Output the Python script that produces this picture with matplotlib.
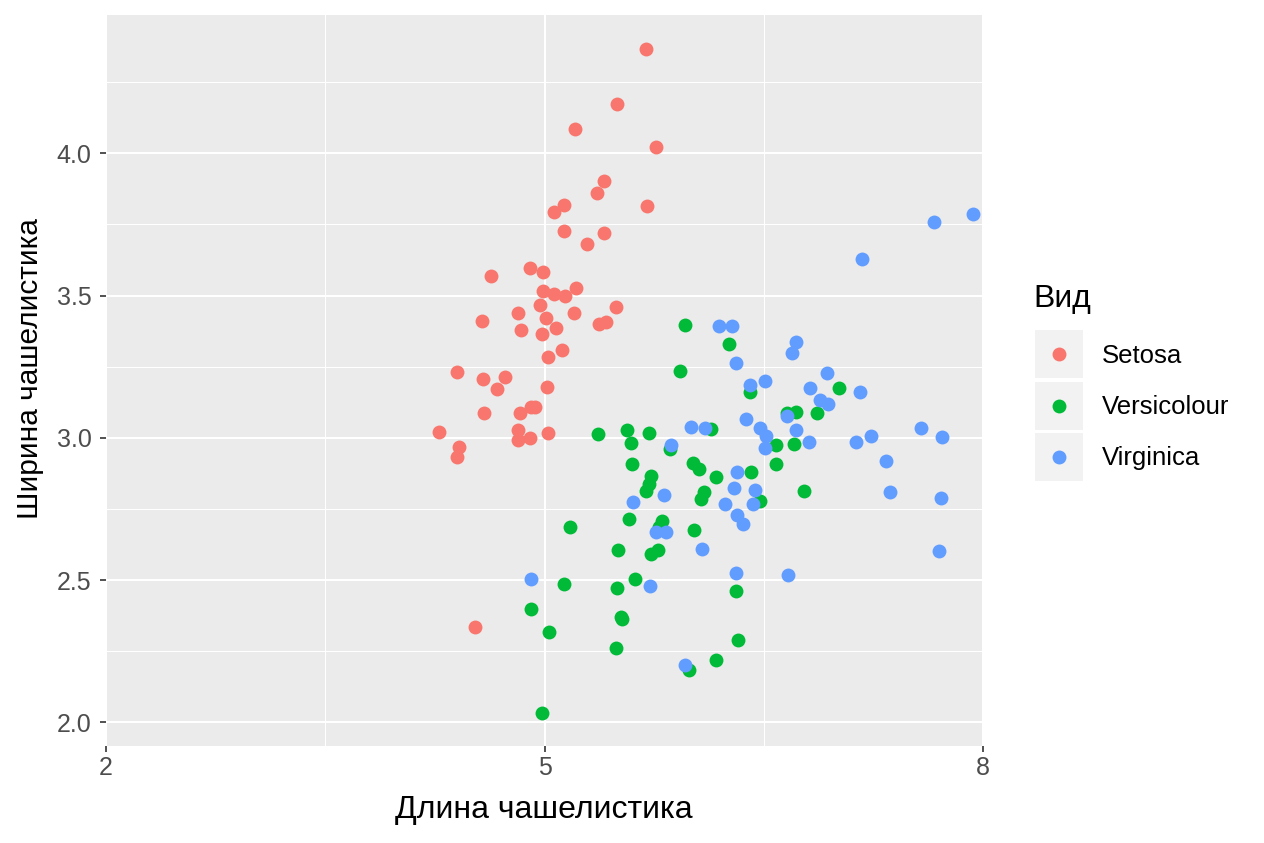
import matplotlib
matplotlib.use("Agg")
import matplotlib.pyplot as plt
from matplotlib.patches import Rectangle

plt.rcParams['font.family'] = ['Liberation Sans', 'DejaVu Sans']

# данные (длина и ширина чашелистика)
setosa_x = [5.696, 5.498, 5.765, 5.212, 5.410, 5.362, 5.703, 5.130, 5.068, 5.130,
            5.410, 5.294, 4.631, 4.904, 4.993, 4.993, 5.068, 5.137, 5.218, 5.491,
            4.966, 4.816, 4.570, 5.007, 5.205, 5.375, 5.423, 4.836, 4.980, 5.082,
            5.123, 5.027, 4.399, 4.577, 4.727, 4.672, 5.020, 4.932, 4.911, 4.584,
            4.829, 4.276, 4.816, 4.816, 4.904, 5.027, 4.413, 4.399, 4.522]
setosa_y = [4.367, 4.173, 4.022, 4.085, 3.903, 3.860, 3.815, 3.819, 3.794, 3.727,
            3.720, 3.681, 3.569, 3.597, 3.583, 3.516, 3.505, 3.498, 3.527, 3.460,
            3.467, 3.439, 3.411, 3.421, 3.439, 3.400, 3.407, 3.379, 3.365, 3.386,
            3.309, 3.284, 3.231, 3.207, 3.214, 3.172, 3.179, 3.108, 3.108, 3.087,
            3.087, 3.020, 3.027, 2.992, 2.999, 3.017, 2.968, 2.933, 2.335]

versicolour_x = [5.962, 6.263, 5.928, 6.406, 6.720, 6.659, 6.863, 7.014, 6.140, 6.584,
                 6.706, 6.017, 6.058, 6.174, 6.413, 6.584, 6.092, 6.072, 6.474, 6.775,
                 6.024, 5.369, 5.567, 5.594, 5.717, 5.860, 5.601, 5.730, 5.717, 5.696,
                 5.580, 5.177, 5.805, 5.785, 5.505, 5.778, 5.730, 5.130, 5.498, 5.621,
                 4.911, 5.526, 5.532, 5.034, 5.491, 6.311, 6.324, 6.174, 5.990, 4.986]
versicolour_y = [3.396, 3.330, 3.235, 3.161, 3.091, 3.087, 3.087, 3.175, 3.031, 2.975,
                 2.978, 2.911, 2.890, 2.862, 2.880, 2.908, 2.810, 2.785, 2.778, 2.813,
                 2.676, 3.013, 3.027, 2.982, 3.017, 2.961, 2.907, 2.866, 2.838, 2.813,
                 2.715, 2.687, 2.708, 2.687, 2.606, 2.606, 2.592, 2.486, 2.472, 2.504,
                 2.398, 2.370, 2.363, 2.317, 2.261, 2.462, 2.289, 2.219, 2.184, 2.033]

virginica_x = [7.935, 7.662, 7.171, 6.720, 6.693, 6.195, 6.283, 6.311, 6.509, 6.406,
               6.932, 6.816, 7.157, 6.884, 6.939, 6.379, 6.659, 6.003, 6.099, 6.474,
               6.515, 6.720, 6.509, 6.809, 7.130, 7.232, 7.573, 7.717, 7.335, 7.362,
               7.710, 7.696, 6.318, 6.297, 6.440, 6.235, 6.427, 6.318, 6.358, 5.867,
               5.608, 5.819, 5.765, 5.833, 4.911, 5.724, 6.078, 6.311, 6.666, 5.962]
virginica_y = [3.787, 3.758, 3.628, 3.337, 3.298, 3.393, 3.393, 3.263, 3.200, 3.186,
               3.228, 3.175, 3.161, 3.133, 3.119, 3.066, 3.077, 3.038, 3.035, 3.035,
               3.006, 3.027, 2.964, 2.985, 2.985, 3.006, 3.035, 3.003, 2.918, 2.809,
               2.788, 2.602, 2.880, 2.824, 2.817, 2.767, 2.767, 2.729, 2.697, 2.975,
               2.774, 2.799, 2.669, 2.669, 2.504, 2.479, 2.609, 2.525, 2.518, 2.201]

species = ['Setosa', 'Versicolour', 'Virginica']
colors = ['#F8766D', '#00BA38', '#619CFF']
xs = [setosa_x, versicolour_x, virginica_x]
ys = [setosa_y, versicolour_y, virginica_y]

x_ticks = [2, 5, 8]
y_ticks = [2.0, 2.5, 3.0, 3.5, 4.0]

W, H = 1264, 843
fig = plt.figure(figsize=(W / 100, H / 100), dpi=100)
ax = fig.add_axes([106 / W, (H - 746) / H, (983 - 106) / W, (746 - 15) / H])
ax.set_facecolor('#EBEBEB')
for s in ax.spines.values():
    s.set_visible(False)

for sx, sy, c in zip(xs, ys, colors):
    ax.scatter(sx, sy, s=100, color=c, linewidths=0, zorder=3)

ax.set_xlim(2, 8)
ax.set_ylim(1.917, 4.486)
ax.set_xticks(x_ticks)
ax.set_xticklabels([str(v) for v in x_ticks])
ax.set_yticks(y_ticks)
ax.set_yticklabels([f'{v:.1f}' for v in y_ticks])
ax.set_xticks([3.5, 6.5], minor=True)
ax.set_yticks([2.25, 2.75, 3.25, 3.75, 4.25], minor=True)
ax.grid(which='major', color='white', linewidth=1.5, zorder=0)
ax.grid(which='minor', color='white', linewidth=0.75, zorder=0)
ax.set_axisbelow(True)
ax.tick_params(which='major', length=4.5, width=1.2, color='#333333',
               labelsize=18, labelcolor='#4D4D4D')
ax.tick_params(axis='x', which='major', pad=3)
ax.tick_params(axis='y', which='major', pad=6)
ax.tick_params(which='minor', length=0)

# подписи осей
fig.text(544 / W, 1 - 818 / H, 'Длина чашелистика', fontsize=23,
         ha='center', va='baseline')
fig.text(30 / W, 1 - 369 / H, 'Ширина чашелистика', fontsize=21.5,
         rotation=90, ha='center', va='center')

# легенда в стиле ggplot
fig.text(1033 / W, 1 - 307 / H, 'Вид', fontsize=23, va='baseline', ha='left')
key_top = [330, 382, 433]
baselines = [363, 414, 465]
lax = fig.add_axes([1035 / W, 1 - 481 / H, 48 / W, 151 / H])
lax.set_xlim(1035, 1083)
lax.set_ylim(481, 330)
lax.axis('off')
for top, base, lab, c in zip(key_top, baselines, species, colors):
    lax.add_patch(Rectangle((1035, top), 48, 48, facecolor='#F2F2F2',
                            edgecolor='none', zorder=1))
    lax.scatter([1059], [top + 24], s=100, color=c, linewidths=0, zorder=2)
    fig.text(1102 / W, 1 - base / H, lab, fontsize=18.5, va='baseline', ha='left')

fig.savefig('out.png', dpi=100)
